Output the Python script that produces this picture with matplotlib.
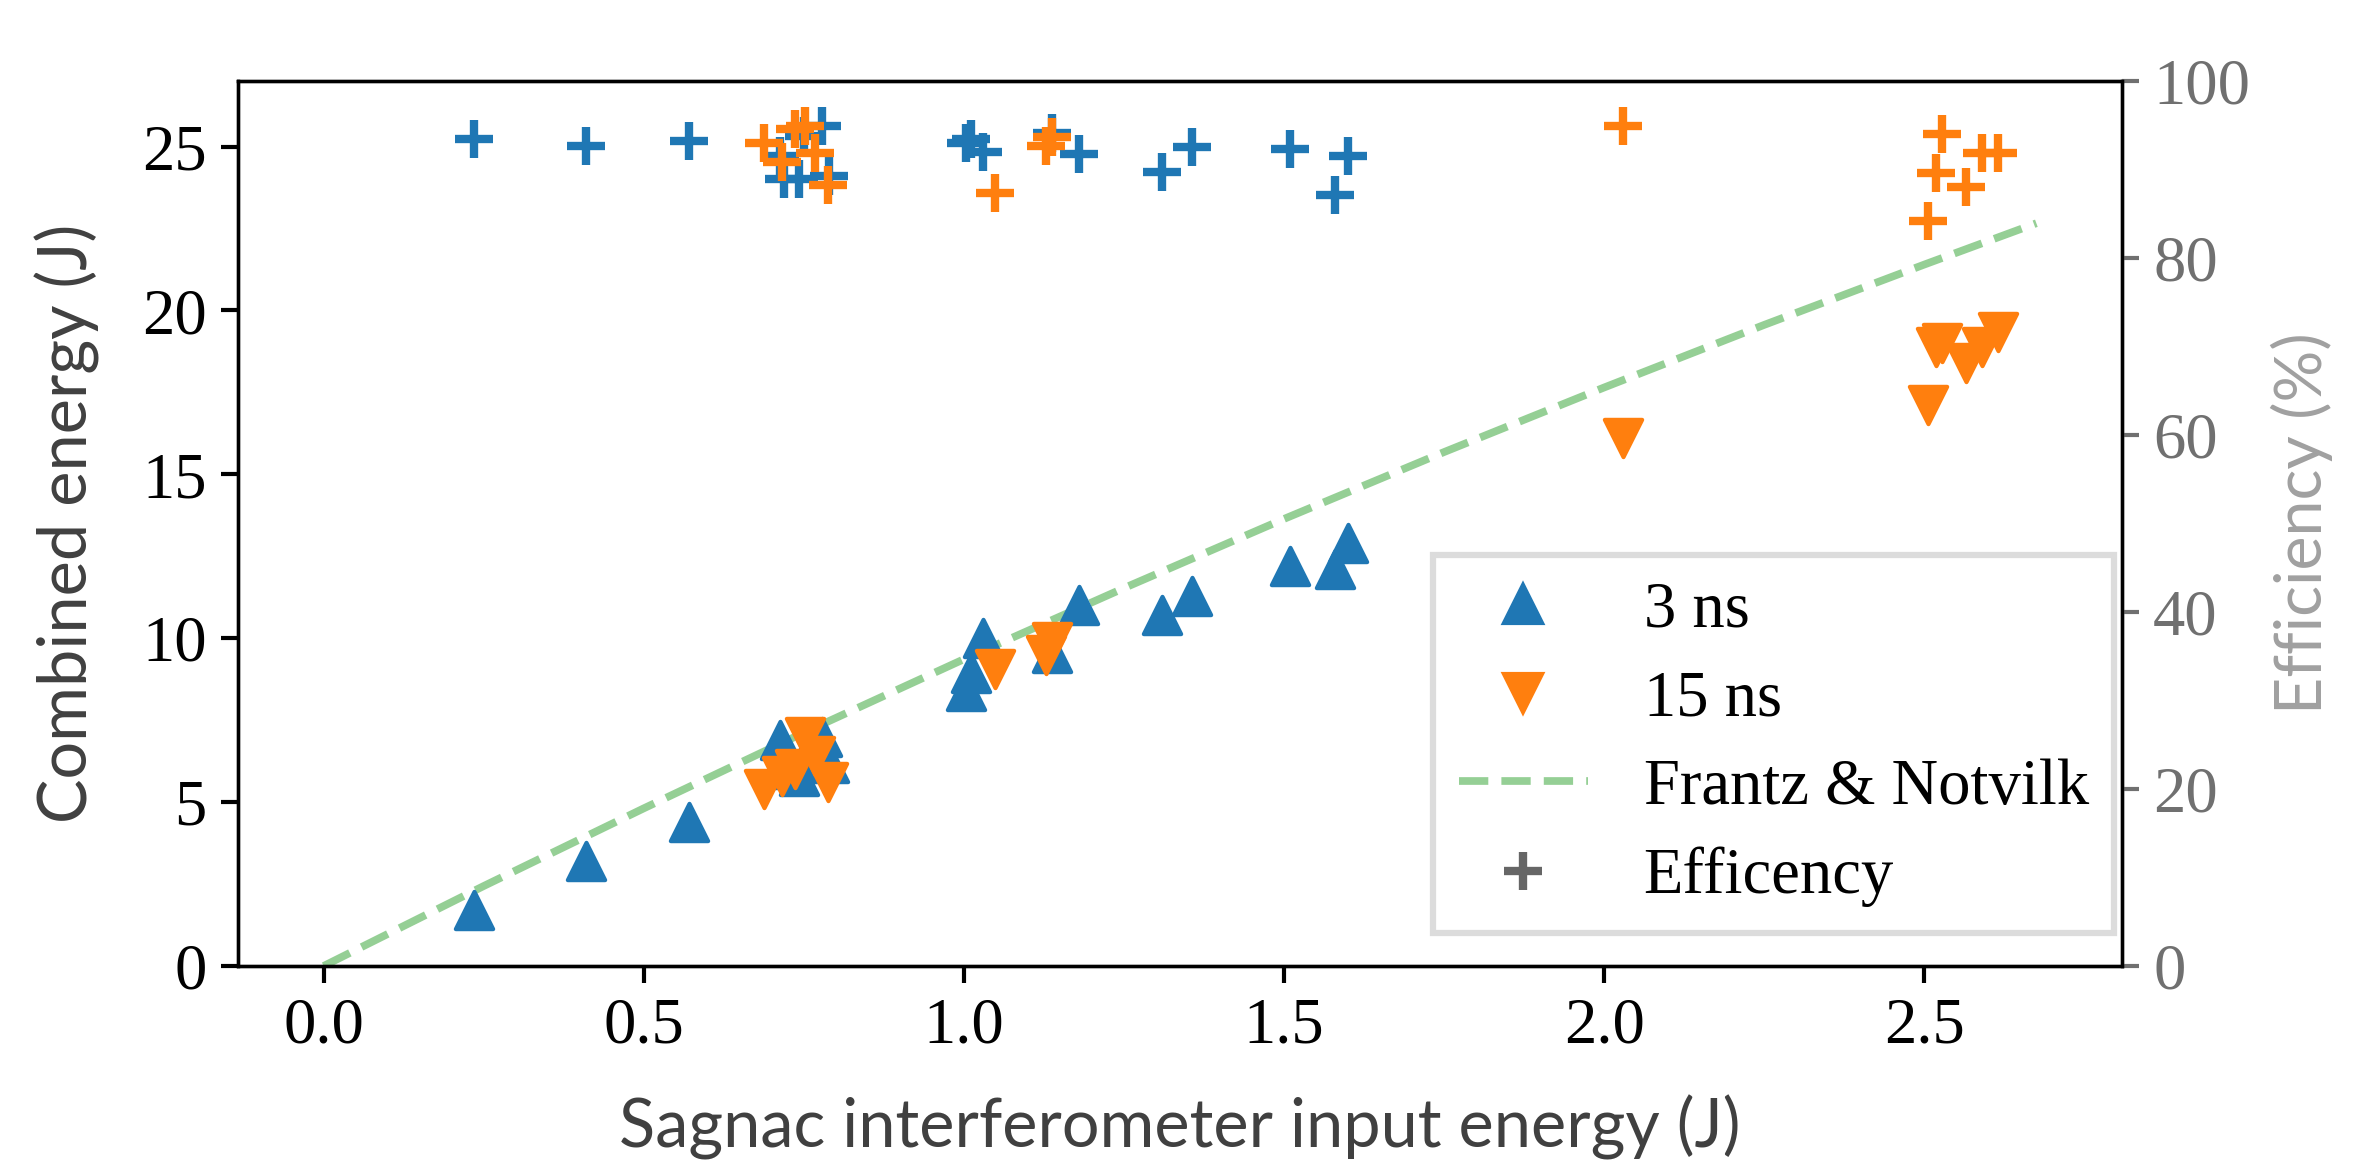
import matplotlib
matplotlib.use('Agg')
import matplotlib.pyplot as plt
from matplotlib.lines import Line2D

# 3 ns pulses
x_3ns = [0.235, 0.409, 0.570, 0.712, 0.719, 0.742, 0.750, 0.778, 0.789,
         1.003, 1.011, 1.030, 1.137, 1.180, 1.310, 1.357, 1.510, 1.580, 1.600]
energy_3ns = [1.7, 3.2, 4.4, 6.9, 6.0, 5.8, 6.3, 7.0, 6.2,
              8.4, 8.95, 10.0, 9.55, 11.0, 10.7, 11.3, 12.2, 12.1, 12.9]
eff_3ns = [93.5, 92.7, 93.2, 91.5, 88.9, 88.9, 93.8, 94.9, 89.3,
           93.0, 93.4, 92.0, 94.1, 91.7, 89.7, 92.5, 92.3, 87.1, 91.5]

# 15 ns pulses
x_15ns = [0.688, 0.716, 0.736, 0.752, 0.767, 0.787, 1.049, 1.128, 1.138,
          2.029, 2.505, 2.518, 2.528, 2.565, 2.590, 2.615]
energy_15ns = [5.4, 5.8, 6.0, 7.0, 6.4, 5.6, 9.05, 9.5, 9.9,
               16.1, 17.1, 18.9, 19.0, 18.4, 18.9, 19.35]
eff_15ns = [93.0, 90.9, 94.6, 94.9, 91.9, 88.3, 87.4, 92.6, 93.7,
            94.9, 84.2, 89.6, 94.0, 88.0, 91.9, 91.9]

# Frantz & Nodvik curve
x_fn = [0.0, 0.25, 0.5, 0.75, 1.0, 1.25, 1.5, 1.75, 2.0, 2.25, 2.5, 2.675]
energy_fn = [0.0, 2.44, 4.81, 7.12, 9.36, 11.53, 13.64, 15.68, 17.65, 19.56, 21.40, 22.66]

serif = ['Liberation Serif', 'DejaVu Serif']
sans = ['Lato', 'DejaVu Sans']
blue = '#1f77b4'
orange = '#ff7f0e'
fn_dash = (3.8, 1.7)

fig = plt.figure(figsize=(2359/300, 1161/300), dpi=300)
ax = fig.add_axes([238/2359, 1-966/1161, (2122-238)/2359, (966-81)/1161])
ax2 = ax.twinx()

ax.scatter(x_3ns, energy_3ns, marker='^', s=80, color=blue, zorder=6)
ax.scatter(x_15ns, energy_15ns, marker='v', s=80, color=orange, zorder=6)
ax.plot(x_fn, energy_fn, '--', color='tab:green', alpha=0.5, lw=1.85, dashes=fn_dash)
ax2.plot(x_3ns, eff_3ns, '+', color=blue, markersize=9, markeredgewidth=2)
ax2.plot(x_15ns, eff_15ns, '+', color=orange, markersize=9, markeredgewidth=2)

ax.set_ylim(0, 27)
ax2.set_ylim(0, 100)
ax.set_yticks([0, 5, 10, 15, 20, 25])
ax2.set_yticks([0, 20, 40, 60, 80, 100])
ax.set_xticks([0.0, 0.5, 1.0, 1.5, 2.0, 2.5])
ax.set_xticklabels(['0.0', '0.5', '1.0', '1.5', '2.0', '2.5'])

for lab in ax.get_xticklabels() + ax.get_yticklabels():
    lab.set_family(serif)
    lab.set_fontsize(15.5)
for lab in ax2.get_yticklabels():
    lab.set_family(serif)
    lab.set_fontsize(15.5)
    lab.set_color('#707070')
ax.tick_params(length=4, width=1)
ax2.tick_params(length=4, width=1, color='#707070')

ax.set_xlabel('Sagnac interferometer input energy (J)', family=sans, fontsize=16,
              color='#404040', labelpad=9)
ax.set_ylabel('Combined energy (J)', family=sans, fontsize=16, color='#404040', labelpad=10)
ax2.set_ylabel('Efficiency (%)', family=sans, fontsize=15.5, color='#a0a0a0', labelpad=5)

handles = [
    Line2D([], [], marker='^', ls='', color=blue, markersize=9),
    Line2D([], [], marker='v', ls='', color=orange, markersize=9),
    Line2D([], [], ls='--', color='tab:green', alpha=0.5, lw=1.85, dashes=fn_dash),
    Line2D([], [], marker='+', ls='', color='#666666', markersize=9, markeredgewidth=2),
]
labels = ['3 ns', '15 ns', 'Frantz & Notvilk', 'Efficency']
leg = ax.legend(handles, labels, loc='lower right', bbox_to_anchor=(0.996, 0.037),
                borderaxespad=0, prop={'family': serif, 'size': 15.5},
                frameon=True, fancybox=False, framealpha=1, edgecolor='#dcdcdc',
                handlelength=2.0, handletextpad=0.86, labelspacing=0.45, borderpad=0.4)
leg.get_frame().set_linewidth(1.5)
leg.set_zorder(5)

plt.savefig('out.png', dpi=300)
